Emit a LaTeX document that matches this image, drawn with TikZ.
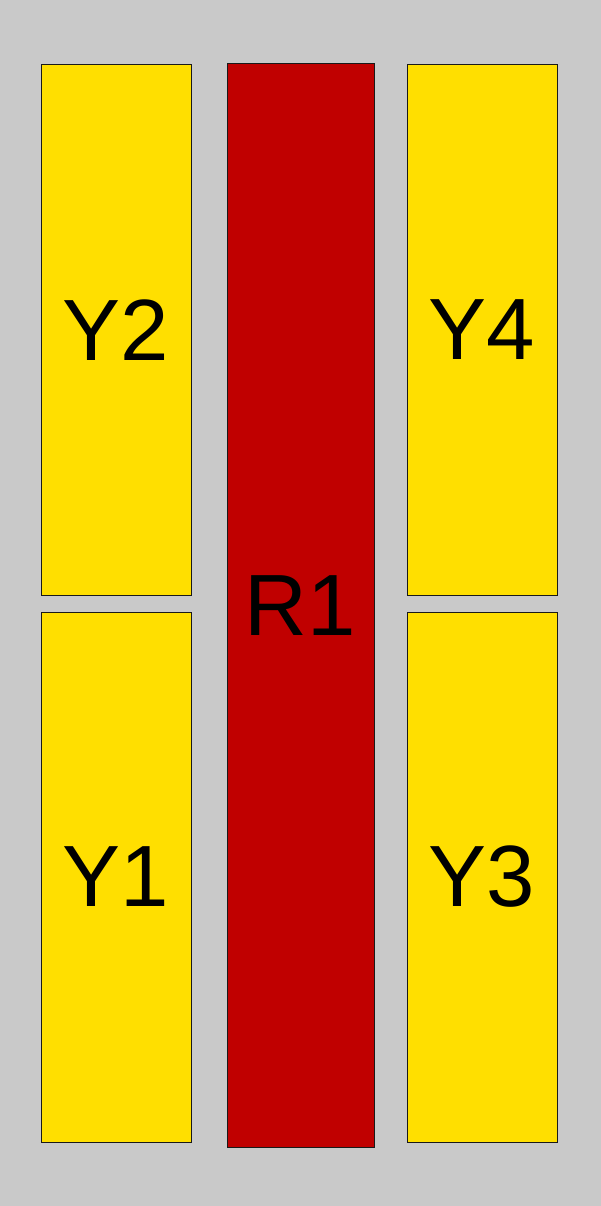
\documentclass[tikz,border=0pt]{standalone}
\usepackage{fontspec}
\setmainfont{Liberation Sans}
\definecolor{bggray}{RGB}{201,201,201}
\definecolor{ybar}{RGB}{255,223,0}
\definecolor{rbar}{RGB}{192,0,0}
\tikzset{
  ystrip/.style={draw=black!90, fill=ybar, line width=1pt, inner sep=0pt,
    minimum width=150pt, minimum height=530pt, font=\fontsize{87}{87}\selectfont},
  rstrip/.style={draw=black!90, fill=rbar, line width=1pt, inner sep=0pt,
    minimum width=147pt, minimum height=1083pt, font=\fontsize{87}{87}\selectfont}
}
\begin{document}
\begin{tikzpicture}[x=1pt,y=-1pt]

\fill[bggray] (0,0) rectangle (601,1206);
\useasboundingbox (0,0) rectangle (601,1206);

\node [ystrip] (y2) at (116,330) {Y2};
\node [ystrip] (y1) at (116,877) {Y1};

\node [rstrip] (r1) at (300.5,605.5) {R1};

\node [ystrip] (y4) at (482,330) {Y4};
\node [ystrip] (y3) at (482,877) {Y3};
\end{tikzpicture}
\end{document}
